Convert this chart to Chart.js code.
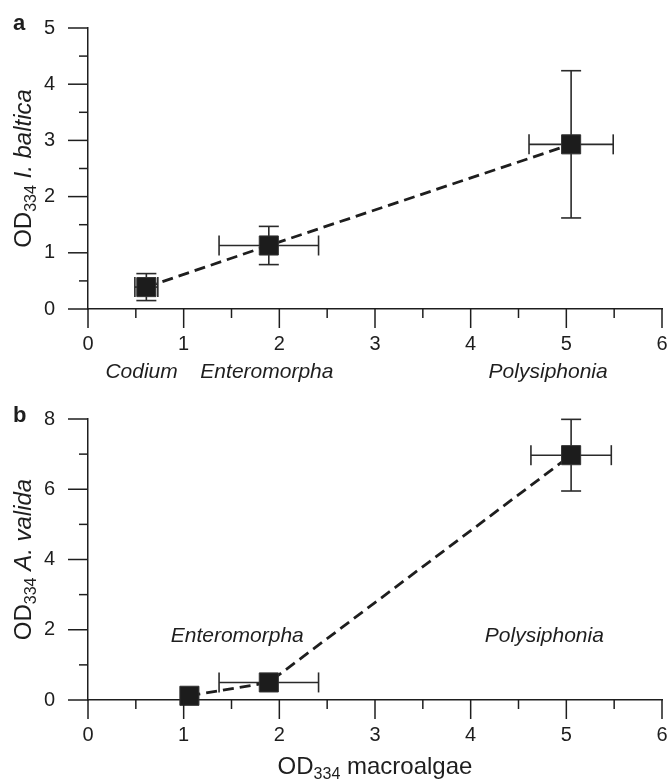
<!DOCTYPE html>
<html>
<head>
<meta charset="utf-8">
<script src="https://cdn.jsdelivr.net/npm/chart.js@4.4.1/dist/chart.umd.min.js"></script>
<style>
html,body{margin:0;padding:0;background:#fff;}
.box{width:669px;height:390px;position:relative;}
</style>
</head>
<body>
<div class="box"><canvas id="chartA"></canvas></div>
<div class="box"><canvas id="chartB"></canvas></div>
<script>
// panel a : OD334 of I. baltica fed on each alga
const macroA=[0.61,1.89,5.05];
const macroErrA=[0.12,0.52,0.44];
const balticaA=[0.39,1.13,2.93];
const balticaErrA=[0.24,0.34,1.31];
const namesA=['Codium','Enteromorpha','Polysiphonia'];
const nameXA=[0.56,1.87,4.81];

// panel b : OD334 of A. valida
const macroB=[1.06,1.89,5.05];
const macroErrB=[0,0.52,0.42];
const validaB=[0.12,0.5,6.97];
const validaErrB=[0,0,1.02];
const namesB=['Enteromorpha','Polysiphonia'];
const nameXB=[1.56,4.77];
const nameYB=[1.82,1.82];

const INK='#1e1e1e';
const FONT="'Liberation Sans', Arial, Helvetica, sans-serif";

function line(ctx,x1,y1,x2,y2){ctx.beginPath();ctx.moveTo(x1,y1);ctx.lineTo(x2,y2);ctx.stroke();}

// outward major/minor tick marks
const tickMarks={id:'tickMarks',afterDraw(chart,args,o){
  const ctx=chart.ctx,xs=chart.scales.x,ys=chart.scales.y,a=chart.chartArea;
  ctx.save();ctx.strokeStyle=INK;ctx.lineWidth=1.5;
  for(let i=0;i<=(xs.max-xs.min)/o.xStep*2;i++){
    const v=xs.min+i*o.xStep/2,px=xs.getPixelForValue(v);
    line(ctx,px,a.bottom,px,a.bottom+(i%2?9:19));
  }
  for(let i=0;i<=(ys.max-ys.min)/o.yStep*2;i++){
    const v=ys.min+i*o.yStep/2,py=ys.getPixelForValue(v);
    line(ctx,a.left,py,a.left-(i%2?9:20),py);
  }
  ctx.restore();
}};

// x and y error bars with caps
const errBars={id:'errBars',beforeDatasetsDraw(chart,args,o){
  const ctx=chart.ctx,xs=chart.scales.x,ys=chart.scales.y;
  ctx.save();ctx.strokeStyle='#2a2a2a';ctx.lineWidth=1.6;
  o.x.forEach((xv,i)=>{
    const px=xs.getPixelForValue(xv),py=ys.getPixelForValue(o.y[i]);
    if(o.xe[i]>0){
      const l=xs.getPixelForValue(xv-o.xe[i]),r=xs.getPixelForValue(xv+o.xe[i]);
      line(ctx,l,py,r,py);line(ctx,l,py-10,l,py+10);line(ctx,r,py-10,r,py+10);
    }
    if(o.ye[i]>0){
      const t=ys.getPixelForValue(o.y[i]+o.ye[i]),b=ys.getPixelForValue(o.y[i]-o.ye[i]);
      line(ctx,px,t,px,b);line(ctx,px-10,t,px+10,t);line(ctx,px-10,b,px+10,b);
    }
  });
  ctx.restore();
}};

function drawParts(ctx,parts,x,y){
  let w=0;
  parts.forEach(p=>{ctx.font=p.f;w+=ctx.measureText(p.t).width;});
  let cx=x-w/2;
  parts.forEach(p=>{ctx.font=p.f;ctx.fillText(p.t,cx,y+(p.dy||0));cx+=ctx.measureText(p.t).width;});
}

// panel letter, axis titles, species names
const texts={id:'texts',afterDraw(chart,args,o){
  const ctx=chart.ctx,a=chart.chartArea,xs=chart.scales.x,ys=chart.scales.y;
  ctx.save();ctx.fillStyle=INK;
  ctx.font='bold 22px '+FONT;ctx.textBaseline='alphabetic';ctx.textAlign='left';
  ctx.fillText(o.letter,13,o.letterY);
  ctx.save();ctx.translate(31,(a.top+a.bottom)/2);ctx.rotate(-Math.PI/2);
  drawParts(ctx,[{t:'OD',f:'24px '+FONT},{t:'334',f:'16px '+FONT,dy:5},{t:' ',f:'24px '+FONT},{t:o.yName,f:'italic 24px '+FONT}],0,0);
  ctx.restore();
  if(o.xTitle){
    drawParts(ctx,[{t:'OD',f:'24px '+FONT},{t:'334',f:'16px '+FONT,dy:5},{t:' macroalgae',f:'24px '+FONT}],(a.left+a.right)/2,o.xTitleY);
  }
  ctx.font='italic 21px '+FONT;ctx.textAlign='center';ctx.textBaseline='middle';
  o.names.forEach((n,i)=>{
    const px=xs.getPixelForValue(o.nx[i]);
    const py=o.ny?ys.getPixelForValue(o.ny[i]):a.bottom+63;
    ctx.fillText(n,px,py);
  });
  ctx.restore();
}};

function noPad(s){s.paddingLeft=0;s.paddingRight=0;s.paddingTop=0;s.paddingBottom=0;}

function makePanel(id,xv,xe,yv,ye,yMax,yStep,top,extra){
  const pts=xv.map((x,i)=>({x:x,y:yv[i]}));
  return new Chart(document.getElementById(id),{
    type:'scatter',
    data:{datasets:[{data:pts,showLine:true,borderColor:INK,borderWidth:2.8,borderDash:[11,6],
      pointStyle:'rect',pointRadius:13.5,pointHoverRadius:13.5,pointBackgroundColor:'#1c1c1c',
      pointBorderColor:'#333',pointBorderWidth:1,clip:false}]},
    options:{responsive:false,animation:false,devicePixelRatio:1,
      layout:{autoPadding:false,padding:{left:0,right:7,top:top,bottom:0}},
      plugins:{legend:{display:false},tooltip:{enabled:false},
        tickMarks:{xStep:1,yStep:yStep},
        errBars:{x:xv,xe:xe,y:yv,ye:ye},
        texts:extra},
      scales:{
        x:{type:'linear',min:0,max:6,
          ticks:{stepSize:1,padding:15,color:INK,font:{family:FONT,size:20}},
          grid:{display:false},border:{display:true,color:INK,width:1.5},
          afterFit:s=>{s.height=390-top-extra.plotH;noPad(s);}},
        y:{type:'linear',min:0,max:yMax,
          ticks:{stepSize:yStep,padding:25,color:INK,font:{family:FONT,size:20}},
          grid:{display:false},border:{display:true,color:INK,width:1.5},
          afterFit:s=>{s.width=88;noPad(s);}}
      }},
    plugins:[errBars,tickMarks,texts]
  });
}

function setup(id){const c=document.getElementById(id);c.width=669;c.height=390;c.style.width='669px';c.style.height='390px';}
setup('chartA');setup('chartB');

makePanel('chartA',macroA,macroErrA,balticaA,balticaErrA,5,1,28,
  {letter:'a',letterY:30,yName:'I. baltica',names:namesA,nx:nameXA,plotH:281});
makePanel('chartB',macroB,macroErrB,validaB,validaErrB,8,2,29,
  {letter:'b',letterY:32,yName:'A. valida',names:namesB,nx:nameXB,ny:nameYB,xTitle:true,xTitleY:384,plotH:281});
</script>
</body>
</html>
